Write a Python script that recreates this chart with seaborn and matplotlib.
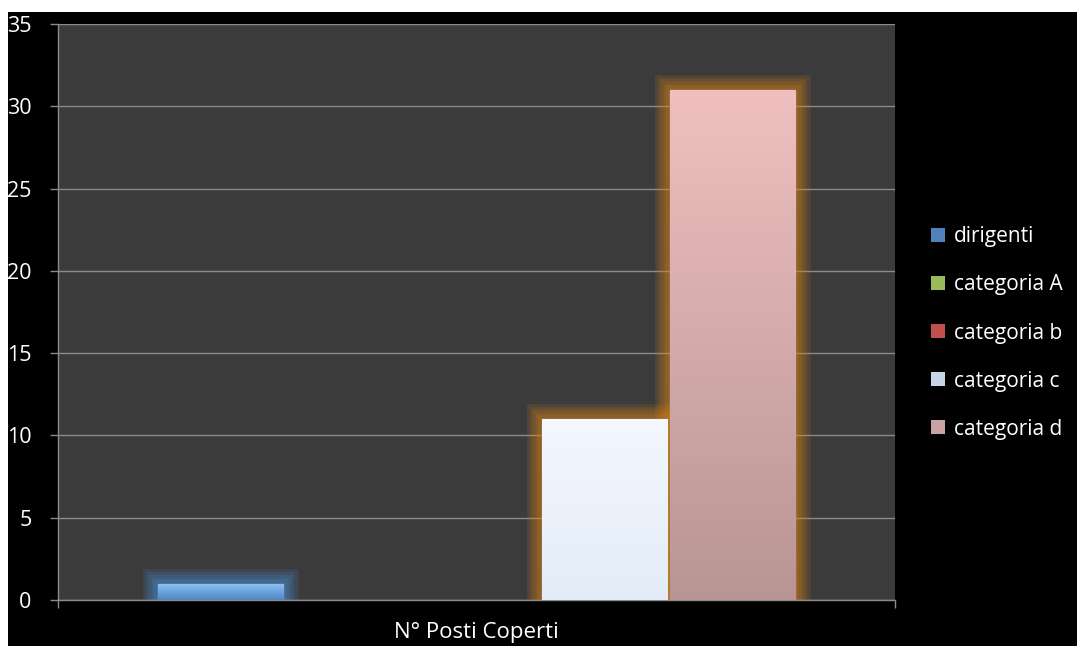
import matplotlib
matplotlib.use('Agg')
import matplotlib.pyplot as plt
import matplotlib.patheffects as pe
from matplotlib.patches import Rectangle, Patch
from matplotlib.colors import LinearSegmentedColormap
import numpy as np
import pandas as pd
import seaborn as sns

# data
group = ['N° Posti Coperti']
categories = ['dirigenti', 'categoria A', 'categoria b', 'categoria c', 'categoria d']
values = [1, 0, 0, 11, 31]

bar_top = ['#8ec3f5', '#c8dba0', '#e07a76', '#f4f8ff', '#f0c0c0']
bar_bottom = ['#4f86c6', '#8aa64e', '#a53c38', '#e2ecf8', '#b89594']
glow = ['#4a90d9', '#9bbb59', '#c0504d', '#d98316', '#d98316']
legend_cols = ['#4f81bd', '#9bbb59', '#c0504d', '#c6d4e6', '#c9a3a3']

df = pd.DataFrame({'grp': group * len(categories), 'cat': categories, 'val': values})

sns.set_style('dark')
plt.rcParams['font.family'] = ['Open Sans', 'DejaVu Sans']

fig = plt.figure(figsize=(10.77, 6.46), dpi=100)
fig.patch.set_facecolor('white')
# black backdrop (leaves white strip at top and left)
fig.patches.append(Rectangle((8 / 1077, 0), 1 - 8 / 1077, 1 - 12 / 646,
                             transform=fig.transFigure, facecolor='black',
                             edgecolor='none', zorder=-10))

ax = fig.add_axes([58 / 1077, 1 - 600 / 646, (895 - 58) / 1077, (600 - 24) / 646])
ax.set_facecolor('#3b3b3b')

sns.barplot(data=df, x='grp', y='val', hue='cat', hue_order=categories,
            palette=bar_bottom, width=0.765, gap=0.02, ax=ax, legend=False,
            saturation=1, zorder=3)

bars = [p for p in ax.patches if isinstance(p, Rectangle)]
for i, p in enumerate(bars):
    h = p.get_height()
    if h <= 0:
        p.set_linewidth(0)
        p.set_visible(False)
        continue
    # soft glow
    effects = [pe.withStroke(linewidth=lw, foreground=glow[i], alpha=0.15)
               for lw in (22, 17, 13, 9, 6)]
    p.set_path_effects(effects + [pe.Normal()])
    p.set_edgecolor('#9aa0a8')
    p.set_linewidth(0.8)
    x0, w = p.get_x(), p.get_width()
    cmap = LinearSegmentedColormap.from_list('g', [bar_bottom[i], bar_top[i]])
    grad = np.linspace(0, 1, 256).reshape(-1, 1)
    im = ax.imshow(grad, cmap=cmap, aspect='auto', origin='lower',
                   extent=[x0, x0 + w, 0, h], zorder=4)
    im.set_clip_path(p)

ax.set_xlim(-0.5, 0.5)
ax.set_ylim(0, 35)
ax.set_yticks(range(0, 36, 5))
ax.grid(axis='y', color='#8a8a8a', linewidth=1)
ax.grid(axis='x', visible=False)
ax.set_axisbelow(True)

for s in ['top', 'right']:
    ax.spines[s].set_visible(False)
for s in ['left', 'bottom']:
    ax.spines[s].set_visible(True)
    ax.spines[s].set_color('#8a8a8a')
    ax.spines[s].set_linewidth(1)

ax.set_xlabel('')
ax.set_ylabel('')
ax.tick_params(axis='y', colors='#8a8a8a', labelcolor='white', labelsize=15.5,
               length=6, width=1, pad=13, left=True)
ax.tick_params(axis='x', which='major', length=0, labelcolor='white',
               labelsize=16, pad=16)
ax.set_xticks([-0.5, 0.5], minor=True)
ax.tick_params(axis='x', which='minor', length=6, width=1, color='#8a8a8a',
               bottom=True)

handles = [Patch(facecolor=c, edgecolor='none') for c in legend_cols]
leg = fig.legend(handles, categories, loc='center left',
                 bbox_to_anchor=(931 / 1077, 1 - 333 / 646), frameon=False,
                 fontsize=15, labelcolor='white', handlelength=0.65,
                 handleheight=0.65, handletextpad=0.45, labelspacing=1.3,
                 borderaxespad=0, borderpad=0)

fig.savefig('out.png', dpi=100, facecolor=fig.get_facecolor())
